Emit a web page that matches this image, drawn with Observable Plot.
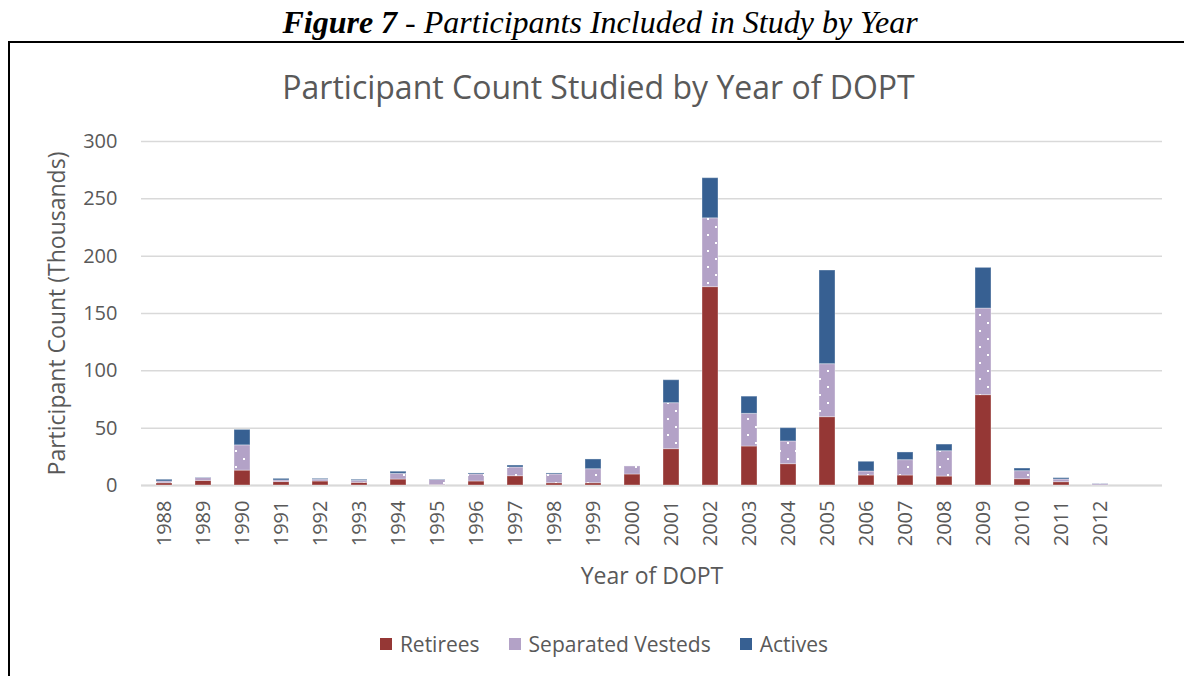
<!DOCTYPE html>
<html>
<head>
<meta charset="utf-8">
<script src="https://cdn.jsdelivr.net/npm/d3@7"></script>
<script src="https://cdn.jsdelivr.net/npm/@observablehq/plot@0.6"></script>
<style>
  html, body { margin: 0; padding: 0; background: #fff; }
  #page { position: relative; width: 1184px; height: 676px; overflow: hidden; background: #fff; }
  #figtitle { position: absolute; left: 0; top: 4px; width: 1200px; text-align: center;
    font-family: "Liberation Serif", "Times New Roman", serif; font-style: italic; font-size: 32px; color: #000; }
  #box { position: absolute; left: 8px; top: 41px; width: 1200px; height: 700px; border: 2px solid #000; }
  #ctitle { position: absolute; left: 0; top: 65px; width: 1197px; text-align: center;
    font-family: "Open Sans", sans-serif; font-size: 32px; color: #595959; }
  #chart { position: absolute; left: 0; top: 120px; }
  #legend { position: absolute; left: 0; top: 630px; width: 1208px; display: flex; justify-content: center; gap: 29px;
    font-family: "Open Sans", sans-serif; font-size: 21px; color: #595959; }
  #legend .item { display: flex; align-items: center; gap: 8px; }
  #legend .sw { width: 12px; height: 12px; display: inline-block; }
  #chart g[aria-label="y-axis label"] text, #chart g[aria-label="x-axis label"] text { font-size: 23px; }
</style>
</head>
<body>
<div id="page">
  <div id="figtitle"><b>Figure 7</b> - Participants Included in Study by Year</div>
  <div id="box"></div>
  <div id="ctitle">Participant Count Studied by Year of DOPT</div>
  <div id="chart"></div>
  <div id="legend"></div>
</div>
<script>
const years = ["1988","1989","1990","1991","1992","1993","1994","1995","1996","1997","1998","1999","2000",
               "2001","2002","2003","2004","2005","2006","2007","2008","2009","2010","2011","2012"];
const retirees  = [2, 4, 13, 3, 3.5, 2.3, 5.2, 0.3, 3.5, 8.1, 2, 2, 9.6, 31.7, 173, 34, 18.6, 59.6, 8.7, 8.7, 7.8, 78.8, 5.5, 2.9, 0];
const separated = [1.5, 2.5, 22, 1.4, 1.5, 1.8, 5, 4.5, 6.1, 7.6, 7.6, 12.2, 7, 40.1, 60, 28.5, 19.8, 46.2, 3.5, 13.4, 22.1, 75.5, 7, 2.3, 1.2];
const actives   = [1.5, 0.3, 13.5, 1.4, 0.8, 0.9, 1.8, 0.4, 0.9, 1.7, 0.9, 8.5, 0, 20, 35, 15, 11.6, 81.7, 8.5, 6.7, 5.8, 35.5, 2.3, 1.2, 0.2];
const seriesNames = ["Retirees", "Separated Vesteds", "Actives"];
const seriesColors = ["#953735", "url(#dots)", "#376092"];
const legendColors = ["#953735", "#B3A2C7", "#376092"];
const yTicks = [0, 50, 100, 150, 200, 250, 300];

const seriesValues = [retirees, separated, actives];
const data = [];
years.forEach((yr, i) => {
  seriesNames.forEach((s, k) => data.push({year: yr, series: s, value: seriesValues[k][i]}));
});

const xDomain = [...years, ""];

const plot = Plot.plot({
  width: 1184,
  height: 470,
  marginLeft: 141,
  marginRight: 22,
  marginTop: 21,
  marginBottom: 105,
  style: {fontFamily: "'Open Sans', sans-serif", color: "#595959", background: "transparent", overflow: "visible"},
  x: {type: "band", domain: xDomain, paddingInner: 0.59, paddingOuter: 0.295},
  y: {domain: [0, 300]},
  color: {type: "ordinal", domain: seriesNames, range: seriesColors},
  marks: [
    Plot.gridY(yTicks, {stroke: "#d9d9d9", strokeOpacity: 1, strokeWidth: 1.5}),
    Plot.ruleY([0], {stroke: "#d9d9d9", strokeWidth: 2}),
    Plot.barY(data, Plot.stackY({x: "year", y: "value", fill: "series", order: seriesNames,
      stroke: "#ffffff", strokeOpacity: 0.35, strokeWidth: 1})),
    Plot.axisY(yTicks, {tickSize: 0, tickPadding: 24, fontSize: 20, fill: "#595959",
      label: "Participant Count (Thousands)", labelAnchor: "center", labelOffset: 93, labelArrow: "none"}),
    Plot.axisX({tickSize: 0, tickPadding: 15, tickRotate: -90, fontSize: 20, fill: "#595959",
      label: "Year of DOPT", labelAnchor: "center", labelOffset: 98, labelArrow: "none"})
  ]
});

plot.insertAdjacentHTML("afterbegin",
  '<defs><pattern id="dots" patternUnits="userSpaceOnUse" width="16" height="16">' +
  '<rect width="16" height="16" fill="#B3A2C7"></rect>' +
  '<rect x="3" y="2" width="2" height="2" fill="#ffffff"></rect>' +
  '<rect x="11" y="10" width="2" height="2" fill="#ffffff"></rect>' +
  '</pattern></defs>');

document.getElementById("chart").appendChild(plot);

const legend = document.getElementById("legend");
seriesNames.forEach((s, k) => {
  const item = document.createElement("div");
  item.className = "item";
  const sw = document.createElement("span");
  sw.className = "sw";
  sw.style.background = legendColors[k];
  const t = document.createElement("span");
  t.textContent = s;
  item.appendChild(sw);
  item.appendChild(t);
  legend.appendChild(item);
});
</script>
</body>
</html>
